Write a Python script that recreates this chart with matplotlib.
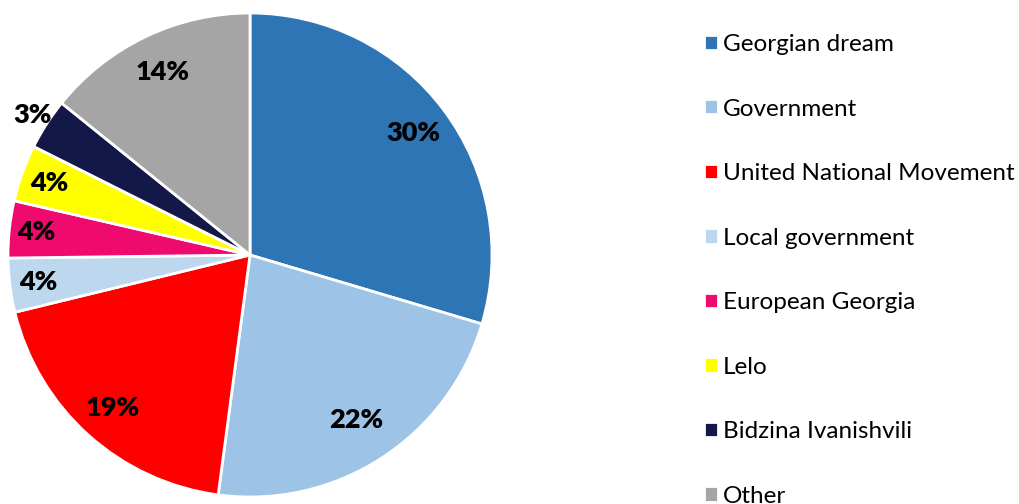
import numpy as np
import matplotlib.pyplot as plt

labels = ["Georgian dream", "Government", "United National Movement", "Local government",
          "European Georgia", "Lelo", "Bidzina Ivanishvili", "Other"]
values = [29.6, 22.5, 19.1, 3.6, 3.8, 3.8, 3.4, 14.2]
colors = ["#2E75B6", "#9DC3E6", "#FF0000", "#BDD7EE", "#EF0B6E", "#FFFF00", "#141848", "#A5A5A5"]
# distance of the percentage label from the centre (fraction of radius)
label_r = [0.84, 0.81, 0.85, 0.88, 0.89, 0.88, 1.07, 0.84]

plt.rcParams['font.family'] = ['Lato', 'DejaVu Sans']

fig = plt.figure(figsize=(10.19, 5.04), dpi=100)
W, H = 1019, 504
cx, cy, R = 250, 255, 242
ax = fig.add_axes([(cx - R) / W, (H - cy - R) / H, 2 * R / W, 2 * R / H])

wedges, _ = ax.pie(values, colors=colors, startangle=90, counterclock=False,
                   wedgeprops=dict(edgecolor='white', linewidth=2))
ax.set_xlim(-1, 1)
ax.set_ylim(-1, 1)
ax.set_aspect('equal')
ax.axis('off')

for w, v, r in zip(wedges, values, label_r):
    a = np.deg2rad((w.theta1 + w.theta2) / 2)
    ax.text(r * np.cos(a), r * np.sin(a), f"{v:.0f}%", ha='center', va='center',
            fontsize=19.5, fontweight='heavy', color='black', clip_on=False)

fig.legend(wedges, labels, loc='upper left', bbox_to_anchor=(704 / W, 1 - 34 / H),
           frameon=False, fontsize=17.5, handlelength=0.58, handleheight=0.58,
           handletextpad=0.2, labelspacing=1.79, borderaxespad=0, borderpad=0)

fig.savefig('out.png', dpi=100)
